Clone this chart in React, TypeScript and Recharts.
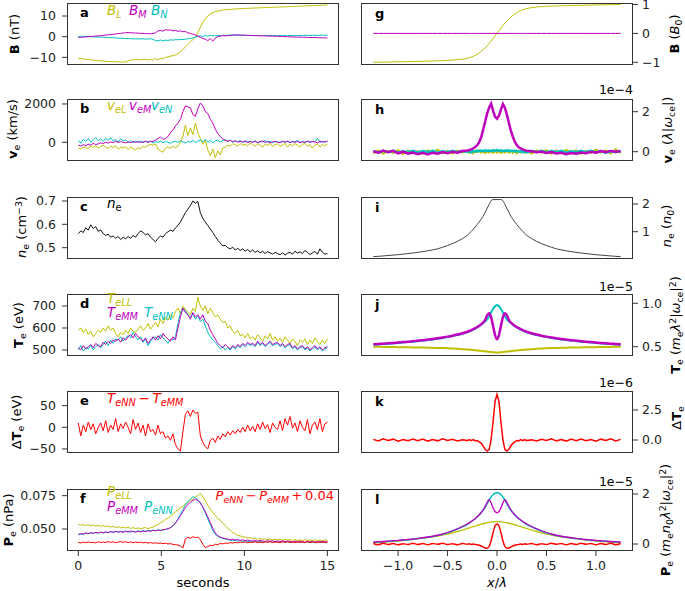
import React from "react";
import { LineChart, Line, XAxis, YAxis } from "recharts";

// ---- observations (left column), sampled every dt seconds from t = 0 to 15 ----
const dt = 0.15;

const bL = [
  -10.5, -10.6, -10.7, -10.9, -11.0, -11.2, -11.3, -11.5, -11.6, -11.7,
  -11.8, -11.9, -12.0, -12.0, -12.1, -12.1, -12.2, -12.2, -12.3, -12.2,
  -11.8, -11.3, -11.2, -11.1, -11.0, -11.2, -11.0, -10.9, -11.3, -11.0,
  -11.4, -10.6, -11.3, -10.4, -10.8, -10.0, -9.8, -9.4, -9.2, -8.8,
  -8.2, -7.2, -6.2, -5.0, -3.8, -2.6, -1.4, -0.2, 2.0, 4.5,
  7.0, 8.5, 10.0, 11.0, 11.6, 12.1, 12.4, 12.7, 12.9, 13.0,
  13.1, 13.2, 13.3, 13.4, 13.5, 13.5, 13.6, 13.7, 13.7, 13.8,
  13.8, 13.9, 13.9, 14.0, 14.0, 14.1, 14.1, 14.2, 14.2, 14.3,
  14.3, 14.4, 14.4, 14.5, 14.5, 14.6, 14.6, 14.7, 14.7, 14.8,
  14.8, 14.9, 14.9, 15.0, 15.0, 15.1, 15.1, 15.2, 15.2, 15.3,
  15.3,
];
const bM = [
  -0.4, -0.3, -0.2, -0.1, 0.0, 0.1, 0.2, 0.3, 0.4, 0.5,
  0.6, 0.8, 0.9, 1.0, 1.2, 1.3, 1.5, 1.6, 1.8, 1.9,
  2.0, 1.9, 1.8, 1.8, 1.7, 1.6, 1.6, 1.5, 1.5, 1.4,
  1.6, 1.9, 2.8, 3.0, 2.7, 3.4, 3.1, 3.3, 2.8, 3.0,
  2.6, 2.8, 2.4, 2.5, 1.9, 1.6, 1.2, 0.8, 0.3, -0.3,
  -0.8, -1.2, -1.9, -0.9, -2.2, -0.7, 0.1, 0.3, 0.5, 0.4,
  0.5, 0.6, 0.8, 0.7, 0.9, 0.8, 0.7, 0.7, 0.6, 0.6,
  0.5, 0.5, 0.5, 0.4, 0.4, 0.4, 0.3, 0.3, 0.3, 0.2,
  0.2, 0.1, 0.1, 0.0, 0.0, -0.1, -0.1, -0.2, -0.2, -0.2,
  -0.3, -0.3, -0.3, -0.4, -0.4, -0.4, -0.5, -0.5, -0.5, -0.6,
  -0.6,
];
const bN = [
  0.2, 0.2, 0.1, 0.1, 0.0, 0.0, -0.1, -0.1, -0.2, -0.2,
  -0.3, -0.3, -0.4, -0.5, -0.5, -0.6, -0.7, -0.8, -0.8, -0.9,
  -0.9, -1.0, -1.0, -1.1, -1.0, -1.1, -1.0, -1.2, -1.1, -1.0,
  -1.3, -1.9, -2.0, -1.6, -2.1, -1.7, -1.8, -1.5, -1.7, -1.4,
  -1.5, -1.3, -1.4, -1.2, -1.0, -0.9, -0.6, -0.2, 0.1, 0.4,
  0.2, 0.5, 0.3, 0.6, 0.5, 0.4, 0.6, 0.5, 0.7, 0.6,
  0.8, 0.7, 0.9, 0.8, 0.7, 0.8, 0.7, 0.7, 0.6, 0.6,
  0.6, 0.6, 0.6, 0.5, 0.6, 0.6, 0.5, 0.5, 0.6, 0.5,
  0.5, 0.5, 0.6, 0.5, 0.5, 0.6, 0.6, 0.5, 0.6, 0.6,
  0.6, 0.6, 0.7, 0.6, 0.6, 0.7, 0.6, 0.7, 0.7, 0.7,
  0.7,
];

const veL = [
  -300, -350, -250, -280, -320, -200, -260, -180, -300, -220,
  -150, -250, -320, -200, -280, -180, -350, -260, -300, -220,
  -380, -250, -320, -400, -280, -350, -200, -260, -150, -120,
  -150, -80, -350, -450, -520, -300, -250, -320, -200, -280,
  -200, 0, 300, 900, 350, 750, 400, 1000, 500, 200,
  -100, 100, -400, -700, -350, -800, -450, -650, -300, -250,
  -150, -200, -80, -120, -200, -60, -150, -100, -180, -50,
  -120, -200, -80, -150, -250, -100, -160, -60, -220, -120,
  -80, -200, -150, -50, -250, -100, -180, -70, -150, -230,
  -100, -60, -200, -120, -300, -150, -80, -250, -120, -180,
  -100,
];
const veM = [
  -150, -200, -120, -180, -100, -150, -50, -120, -80, -30,
  -60, 0, -40, 20, -20, 50, -10, 30, 0, -30,
  20, -20, 40, 0, 30, -10, 20, 60, 0, 40,
  50, 120, 200, 280, 150, 200, 300, 500, 650, 850,
  1000, 1200, 1600, 1900, 1850, 1800, 1450, 1350, 1750, 2050,
  1900, 1600, 1500, 1200, 1000, 700, 450, 300, 180, 100,
  60, 100, 30, 80, 0, 50, 20, 60, -20, 40,
  0, 50, -10, 30, 70, 0, 40, -30, 20, 50,
  0, -20, 40, 10, 60, -10, 30, 0, 50, -20,
  30, 0, 60, -10, 40, 20, -30, 50, 10, 30,
  60,
];
const veN = [
  100, -50, 150, 50, 200, 0, 120, 250, 80, 180,
  50, 200, 100, 250, 60, 150, 20, 180, 80, 120,
  0, 100, -30, 60, 20, 80, -20, 50, 10, 70,
  -40, 30, 0, 60, -20, 40, 0, -50, 20, 60,
  -10, 80, 20, -40, 50, 0, 100, -20, 60, 120,
  30, 150, 0, 100, -30, 80, 120, 20, 90, 150,
  40, 120, 0, 80, 30, 100, -20, 70, 20, 60,
  0, 80, -30, 50, 20, 90, 0, 60, -20, 40,
  30, -10, 70, 10, 50, -30, 60, 20, 100, 0,
  40, -20, 80, 10, 60, 30, 200, 0, 50, 20,
  60,
];

const ne = [
  0.560, 0.572, 0.565, 0.585, 0.575, 0.598, 0.582, 0.590, 0.570, 0.576,
  0.560, 0.552, 0.558, 0.545, 0.550, 0.540, 0.548, 0.535, 0.545, 0.538,
  0.548, 0.540, 0.552, 0.545, 0.560, 0.572, 0.565, 0.555, 0.560, 0.545,
  0.535, 0.525, 0.540, 0.550, 0.545, 0.560, 0.568, 0.575, 0.570, 0.585,
  0.595, 0.610, 0.630, 0.650, 0.665, 0.680, 0.700, 0.690, 0.698, 0.650,
  0.625, 0.610, 0.595, 0.580, 0.565, 0.548, 0.532, 0.520, 0.508, 0.510,
  0.500, 0.495, 0.502, 0.490, 0.497, 0.488, 0.495, 0.485, 0.492, 0.482,
  0.490, 0.480, 0.487, 0.478, 0.485, 0.475, 0.483, 0.478, 0.472, 0.480,
  0.475, 0.470, 0.478, 0.468, 0.476, 0.480, 0.472, 0.485, 0.477, 0.482,
  0.475, 0.488, 0.480, 0.470, 0.478, 0.484, 0.472, 0.495, 0.480, 0.472,
  0.475,
];

const teLL = [
  590, 600, 580, 595, 570, 585, 560, 575, 590, 580,
  600, 585, 610, 590, 600, 575, 560, 580, 570, 590,
  575, 600, 585, 580, 595, 610, 590, 600, 620, 595,
  610, 625, 605, 640, 620, 650, 635, 660, 645, 675,
  690, 665, 700, 685, 670, 660, 690, 675, 740, 700,
  680, 700, 665, 690, 670, 650, 660, 640, 625, 630,
  600, 610, 585, 575, 590, 565, 570, 555, 575, 550,
  560, 545, 570, 555, 540, 565, 550, 575, 545, 560,
  540, 555, 535, 560, 545, 530, 550, 540, 520, 545,
  535, 550, 525, 545, 530, 555, 540, 525, 545, 530,
  550,
];
const teMM = [
  510, 500, 520, 505, 515, 525, 510, 530, 520, 515,
  535, 525, 540, 530, 545, 540, 550, 535, 555, 545,
  560, 570, 555, 575, 560, 550, 540, 555, 530, 545,
  560, 545, 565, 550, 575, 560, 550, 540, 560, 545,
  600, 650, 690, 670, 660, 640, 670, 650, 660, 640,
  660, 630, 620, 590, 570, 550, 530, 520, 510, 525,
  515, 505, 520, 510, 525, 515, 530, 520, 535, 525,
  530, 520, 540, 525, 535, 520, 530, 540, 525, 530,
  535, 520, 530, 515, 525, 530, 510, 520, 505, 515,
  520, 505, 515, 500, 510, 520, 505, 515, 500, 510,
  515,
];
const teNN = [
  500, 520, 495, 510, 505, 520, 500, 515, 525, 510,
  525, 540, 520, 545, 530, 550, 545, 560, 540, 555,
  565, 555, 580, 560, 545, 560, 535, 550, 520, 540,
  555, 560, 545, 570, 555, 545, 530, 550, 545, 560,
  620, 670, 690, 680, 660, 650, 665, 640, 655, 630,
  640, 610, 580, 560, 545, 535, 520, 505, 515, 500,
  510, 500, 515, 505, 520, 510, 525, 515, 530, 520,
  525, 515, 535, 520, 530, 515, 525, 535, 520, 525,
  530, 515, 525, 510, 520, 525, 505, 515, 500, 510,
  515, 500, 510, 495, 505, 515, 500, 510, 495, 505,
  510,
];

const dTe = [
  10, -20, 5, -10, 12, -5, 8, -15, 0, 10,
  -8, 15, -12, 5, -5, 20, -10, 8, -3, 12,
  0, -15, 18, -5, 10, -12, 5, -20, 8, -10,
  -5, -18, 5, -15, -10, -25, -20, -30, -15, -40,
  -50, -55, -10, 30, 38, 25, 40, 32, 35, -20,
  -35, -45, -50, -30, -25, -35, -20, -28, -15, -22,
  -10, -18, -8, -15, -5, -12, 0, -10, 5, -8,
  2, -10, 8, -5, 12, -3, 6, -12, 10, 0,
  -5, 15, -8, 20, 5, 25, -2, 10, -10, 15,
  0, -8, 18, -15, 5, 12, -5, 20, -10, 8,
  12,
];

const peLL = [
  0.0535, 0.0528, 0.0534, 0.0526, 0.0532, 0.0524, 0.0530, 0.0521, 0.0528, 0.0519,
  0.0525, 0.0517, 0.0523, 0.0514, 0.0520, 0.0511, 0.0517, 0.0509, 0.0515, 0.0507,
  0.0513, 0.0504, 0.0511, 0.0502, 0.0509, 0.0500, 0.0507, 0.0511, 0.0503, 0.0510,
  0.0515, 0.0525, 0.0532, 0.0548, 0.0556, 0.0572, 0.0580, 0.0600, 0.0610, 0.0630,
  0.0640, 0.0660, 0.0670, 0.0690, 0.0700, 0.0718, 0.0722, 0.0742, 0.0750, 0.0768,
  0.0740, 0.0712, 0.0678, 0.0652, 0.0622, 0.0602, 0.0578, 0.0566, 0.0543, 0.0527,
  0.0505, 0.0492, 0.0474, 0.0465, 0.0451, 0.0449, 0.0440, 0.0440, 0.0433, 0.0434,
  0.0428, 0.0430, 0.0424, 0.0429, 0.0422, 0.0427, 0.0420, 0.0425, 0.0418, 0.0424,
  0.0419, 0.0423, 0.0416, 0.0422, 0.0417, 0.0421, 0.0415, 0.0420, 0.0414, 0.0419,
  0.0413, 0.0420, 0.0414, 0.0418, 0.0412, 0.0419, 0.0413, 0.0417, 0.0411, 0.0418,
  0.0415,
];
const peMM = [
  0.0460, 0.0465, 0.0462, 0.0470, 0.0466, 0.0472, 0.0468, 0.0475, 0.0470, 0.0476,
  0.0472, 0.0478, 0.0474, 0.0480, 0.0476, 0.0482, 0.0477, 0.0480, 0.0475, 0.0482,
  0.0478, 0.0485, 0.0480, 0.0476, 0.0483, 0.0478, 0.0485, 0.0480, 0.0487, 0.0483,
  0.0490, 0.0486, 0.0492, 0.0488, 0.0495, 0.0497, 0.0503, 0.0510, 0.0525, 0.0545,
  0.0570, 0.0600, 0.0630, 0.0660, 0.0685, 0.0700, 0.0715, 0.0722, 0.0715, 0.0695,
  0.0665, 0.0630, 0.0590, 0.0550, 0.0505, 0.0470, 0.0450, 0.0440, 0.0432, 0.0428,
  0.0425, 0.0420, 0.0423, 0.0417, 0.0421, 0.0415, 0.0419, 0.0413, 0.0417, 0.0411,
  0.0410, 0.0415, 0.0409, 0.0414, 0.0410, 0.0406, 0.0413, 0.0408, 0.0412, 0.0405,
  0.0411, 0.0406, 0.0412, 0.0404, 0.0410, 0.0407, 0.0402, 0.0409, 0.0404, 0.0410,
  0.0405, 0.0400, 0.0408, 0.0403, 0.0407, 0.0401, 0.0406, 0.0402, 0.0408, 0.0403,
  0.0406,
];
const peNN = [
  0.0455, 0.0462, 0.0458, 0.0468, 0.0463, 0.0470, 0.0466, 0.0473, 0.0468, 0.0477,
  0.0470, 0.0476, 0.0472, 0.0479, 0.0474, 0.0481, 0.0476, 0.0483, 0.0478, 0.0485,
  0.0480, 0.0476, 0.0484, 0.0479, 0.0486, 0.0481, 0.0488, 0.0483, 0.0490, 0.0485,
  0.0492, 0.0487, 0.0495, 0.0490, 0.0493, 0.0496, 0.0502, 0.0510, 0.0522, 0.0545,
  0.0575, 0.0610, 0.0645, 0.0680, 0.0705, 0.0725, 0.0742, 0.0735, 0.0720, 0.0700,
  0.0660, 0.0620, 0.0575, 0.0530, 0.0490, 0.0460, 0.0445, 0.0436, 0.0430, 0.0425,
  0.0420, 0.0416, 0.0412, 0.0415, 0.0409, 0.0413, 0.0407, 0.0411, 0.0405, 0.0410,
  0.0404, 0.0409, 0.0403, 0.0408, 0.0401, 0.0407, 0.0402, 0.0406, 0.0400, 0.0405,
  0.0402, 0.0398, 0.0406, 0.0400, 0.0404, 0.0397, 0.0403, 0.0399, 0.0405, 0.0398,
  0.0403, 0.0397, 0.0404, 0.0398, 0.0402, 0.0396, 0.0403, 0.0399, 0.0401, 0.0397,
  0.0400,
];
const peDiff = [
  0.0400, 0.0395, 0.0402, 0.0397, 0.0403, 0.0398, 0.0401, 0.0396, 0.0404, 0.0399,
  0.0402, 0.0398, 0.0405, 0.0400, 0.0403, 0.0397, 0.0402, 0.0406, 0.0400, 0.0404,
  0.0399, 0.0403, 0.0397, 0.0402, 0.0398, 0.0401, 0.0396, 0.0400, 0.0394, 0.0398,
  0.0393, 0.0397, 0.0392, 0.0395, 0.0390, 0.0393, 0.0388, 0.0390, 0.0385, 0.0382,
  0.0380, 0.0372, 0.0358, 0.0425, 0.0438, 0.0430, 0.0442, 0.0435, 0.0440, 0.0420,
  0.0385, 0.0360, 0.0368, 0.0378, 0.0375, 0.0386, 0.0382, 0.0392, 0.0388, 0.0395,
  0.0392, 0.0398, 0.0394, 0.0400, 0.0396, 0.0402, 0.0398, 0.0403, 0.0397, 0.0401,
  0.0399, 0.0404, 0.0398, 0.0402, 0.0397, 0.0403, 0.0400, 0.0405, 0.0398, 0.0402,
  0.0401, 0.0397, 0.0404, 0.0399, 0.0405, 0.0400, 0.0403, 0.0398, 0.0404, 0.0400,
  0.0402, 0.0398, 0.0405, 0.0399, 0.0403, 0.0400, 0.0397, 0.0404, 0.0401, 0.0398,
  0.0402,
];

// ---- simulation (right column), positions x/lambda ----
const xLam = [
  -1.25, -1.2, -1.15, -1.1, -1.05, -1.0, -0.95, -0.9, -0.85, -0.8,
  -0.75, -0.7, -0.65, -0.6, -0.55, -0.5, -0.45, -0.4, -0.35, -0.3,
  -0.28, -0.26, -0.24, -0.22, -0.2, -0.18, -0.16, -0.14, -0.12, -0.1,
  -0.08, -0.06, -0.04, -0.02, 0, 0.02, 0.04, 0.06, 0.08, 0.1,
  0.12, 0.14, 0.16, 0.18, 0.2, 0.22, 0.24, 0.26, 0.28,
  0.3, 0.35, 0.4, 0.45, 0.5, 0.55, 0.6, 0.65, 0.7, 0.75,
  0.8, 0.85, 0.9, 0.95, 1.0, 1.05, 1.1, 1.15, 1.2, 1.25,
];

const simBL = [
  -1.0, -0.997, -0.994, -0.99, -0.987, -0.983, -0.98, -0.976, -0.972, -0.968,
  -0.964, -0.96, -0.955, -0.95, -0.944, -0.936, -0.926, -0.912, -0.89, -0.86,
  -0.84, -0.82, -0.79, -0.76, -0.72, -0.67, -0.62, -0.56, -0.5, -0.43,
  -0.35, -0.27, -0.18, -0.09, 0, 0.09, 0.18, 0.27, 0.35, 0.43,
  0.5, 0.56, 0.62, 0.67, 0.72, 0.76, 0.79, 0.82, 0.84,
  0.86, 0.89, 0.912, 0.926, 0.936, 0.944, 0.95, 0.955, 0.96, 0.964,
  0.968, 0.972, 0.976, 0.98, 0.983, 0.987, 0.99, 0.994, 0.997, 1.0,
];
const simBM = [
  0, 0, 0, 0, 0, 0, 0, 0, 0, 0,
  0, 0, 0, 0, 0, 0, 0, 0, 0, 0,
  0, 0, 0, 0, 0, 0, 0, 0, 0, 0,
  0, 0, 0, 0, 0, 0, 0, 0, 0, 0,
  0, 0, 0, 0, 0, 0, 0, 0, 0,
  0, 0, 0, 0, 0, 0, 0, 0, 0, 0,
  0, 0, 0, 0, 0, 0, 0, 0, 0, 0,
];

// velocities in units of 1e-4
const simVL = [
  -0.08, 0.06, -0.1, 0.04, -0.06, 0.08, -0.12, 0.05, -0.07, 0.03,
  -0.09, 0.07, -0.05, 0.1, -0.08, 0.04, -0.1, 0.06, -0.04, 0.05,
  -0.06, 0.04, -0.08, 0.05, -0.03, 0.06, -0.05, 0.03, -0.07, 0.02,
  -0.04, 0.05, -0.06, 0.03, -0.05, 0.04, -0.07, 0.02, -0.04, 0.06,
  -0.05, 0.03, -0.06, 0.04, -0.08, 0.05, -0.03, 0.07, -0.05,
  0.04, -0.09, 0.06, -0.05, 0.08, -0.1, 0.05, -0.07, 0.09, -0.04,
  0.06, -0.11, 0.04, -0.06, 0.1, -0.05, 0.07, -0.09, 0.12, -0.06,
];
const simVN = [
  0.03, -0.04, 0.05, -0.02, 0.04, -0.05, 0.02, -0.03, 0.05, -0.04,
  0.03, -0.02, 0.04, -0.05, 0.02, -0.03, 0.04, -0.02, 0.03, 0.0,
  0.02, -0.03, 0.04, 0.0, 0.05, 0.02, 0.06, 0.03, 0.07, 0.04,
  0.06, 0.03, 0.07, 0.05, 0.08, 0.04, 0.07, 0.03, 0.06, 0.04,
  0.07, 0.03, 0.05, 0.02, 0.04, 0.0, 0.03, -0.02, 0.02,
  -0.03, 0.04, -0.02, 0.05, -0.04, 0.03, -0.02, 0.04, -0.05, 0.02,
  -0.03, 0.05, -0.02, 0.04, -0.04, 0.03, -0.05, 0.02, -0.03, 0.04,
];
const simVM = [
  0.02, -0.05, 0.06, -0.03, 0.04, -0.08, 0.0, -0.1, -0.04, -0.12,
  -0.06, -0.14, -0.05, -0.1, -0.02, -0.08, 0.0, -0.05, 0.03, 0.06,
  0.08, 0.12, 0.17, 0.24, 0.33, 0.48, 0.72, 1.1, 1.5, 1.9,
  2.2, 2.4, 2.05, 1.75, 1.65, 1.8, 2.1, 2.38, 2.2, 1.85,
  1.45, 1.05, 0.75, 0.5, 0.33, 0.22, 0.16, 0.12, 0.08,
  0.05, 0.02, -0.03, 0.01, -0.06, -0.02, -0.09, -0.05, -0.12, -0.07,
  -0.1, -0.04, -0.08, 0.0, -0.05, 0.03, -0.02, 0.04, 0.0, 0.02,
];

const simNe = [
  0.10, 0.11, 0.125, 0.14, 0.155, 0.17, 0.19, 0.21, 0.23, 0.255,
  0.28, 0.31, 0.345, 0.38, 0.44, 0.50, 0.57, 0.65, 0.75, 0.87,
  0.94, 1.01, 1.09, 1.17, 1.26, 1.35, 1.45, 1.56, 1.70, 1.84,
  1.98, 2.12, 2.16, 2.16, 2.16, 2.16, 2.16, 2.12, 1.98, 1.84,
  1.70, 1.56, 1.45, 1.35, 1.26, 1.17, 1.09, 1.01, 0.94,
  0.87, 0.75, 0.65, 0.57, 0.50, 0.44, 0.38, 0.345, 0.31, 0.28,
  0.255, 0.23, 0.21, 0.19, 0.17, 0.155, 0.14, 0.125, 0.11, 0.10,
];

// temperatures in units of 1e-5
const simTL = [
  0.500, 0.499, 0.498, 0.497, 0.496, 0.495, 0.494, 0.493, 0.492, 0.491,
  0.490, 0.489, 0.487, 0.486, 0.484, 0.482, 0.479, 0.476, 0.472, 0.468,
  0.466, 0.464, 0.461, 0.459, 0.457, 0.454, 0.452, 0.449, 0.447, 0.444,
  0.442, 0.439, 0.436, 0.433, 0.431, 0.433, 0.436, 0.439, 0.442, 0.444,
  0.447, 0.449, 0.452, 0.454, 0.457, 0.459, 0.461, 0.464, 0.466,
  0.468, 0.472, 0.476, 0.479, 0.482, 0.484, 0.486, 0.487, 0.489, 0.490,
  0.491, 0.492, 0.493, 0.494, 0.495, 0.496, 0.497, 0.498, 0.499, 0.500,
];
const simTN = [
  0.522, 0.526, 0.530, 0.534, 0.538, 0.543, 0.548, 0.553, 0.558, 0.564,
  0.570, 0.577, 0.584, 0.592, 0.601, 0.611, 0.622, 0.635, 0.650, 0.667,
  0.676, 0.686, 0.697, 0.709, 0.722, 0.737, 0.754, 0.772, 0.792, 0.815,
  0.850, 0.895, 0.935, 0.965, 0.980, 0.965, 0.935, 0.895, 0.850, 0.815,
  0.792, 0.772, 0.754, 0.737, 0.722, 0.709, 0.697, 0.686, 0.676,
  0.667, 0.650, 0.635, 0.622, 0.611, 0.601, 0.592, 0.584, 0.577, 0.570,
  0.564, 0.558, 0.553, 0.548, 0.543, 0.538, 0.534, 0.530, 0.526, 0.522,
];
const simTM = [
  0.527, 0.531, 0.535, 0.539, 0.543, 0.548, 0.553, 0.558, 0.563, 0.569,
  0.575, 0.582, 0.589, 0.597, 0.606, 0.616, 0.627, 0.640, 0.655, 0.672,
  0.681, 0.691, 0.702, 0.714, 0.727, 0.742, 0.759, 0.779, 0.810, 0.862,
  0.885, 0.840, 0.740, 0.635, 0.585, 0.635, 0.740, 0.840, 0.885, 0.862,
  0.810, 0.779, 0.759, 0.742, 0.727, 0.714, 0.702, 0.691, 0.681,
  0.672, 0.655, 0.640, 0.627, 0.616, 0.606, 0.597, 0.589, 0.582, 0.575,
  0.569, 0.563, 0.558, 0.553, 0.548, 0.543, 0.539, 0.535, 0.531, 0.527,
];

// temperature difference in units of 1e-6
const simDT = [
  0.05, -0.08, 0.1, -0.04, 0.07, -0.1, 0.03, -0.06, 0.09, -0.05,
  0.08, -0.09, 0.04, -0.07, 0.1, -0.03, 0.06, -0.08, 0.02, -0.05,
  0.04, -0.06, 0.03, -0.08, -0.05, -0.15, -0.28, -0.5, -0.78, -0.92,
  -0.8, 0.0, 1.5, 3.2, 3.8, 3.2, 1.5, 0.0, -0.8, -0.92,
  -0.78, -0.5, -0.28, -0.15, -0.05, -0.08, 0.03, -0.06, 0.04,
  -0.05, 0.02, -0.08, 0.06, -0.03, 0.1, -0.07, 0.04, -0.09, 0.08,
  -0.05, 0.09, -0.06, 0.03, -0.1, 0.07, -0.04, 0.1, -0.08, 0.05,
];

// pressures in units of 1e-5
const simPL = [
  0.05, 0.06, 0.075, 0.09, 0.105, 0.12, 0.14, 0.16, 0.185, 0.21,
  0.235, 0.26, 0.29, 0.32, 0.36, 0.40, 0.45, 0.50, 0.56, 0.62,
  0.645, 0.67, 0.695, 0.72, 0.745, 0.77, 0.79, 0.81, 0.83, 0.85,
  0.865, 0.878, 0.887, 0.893, 0.895, 0.893, 0.887, 0.878, 0.865, 0.85,
  0.83, 0.81, 0.79, 0.77, 0.745, 0.72, 0.695, 0.67, 0.645,
  0.62, 0.56, 0.50, 0.45, 0.40, 0.36, 0.32, 0.29, 0.26, 0.235,
  0.21, 0.185, 0.16, 0.14, 0.12, 0.105, 0.09, 0.075, 0.06, 0.05,
];
const simPN = [
  0.07, 0.08, 0.09, 0.105, 0.12, 0.135, 0.15, 0.17, 0.19, 0.215,
  0.24, 0.27, 0.30, 0.34, 0.39, 0.45, 0.52, 0.60, 0.69, 0.79,
  0.84, 0.89, 0.95, 1.01, 1.08, 1.16, 1.25, 1.35, 1.47, 1.61,
  1.75, 1.88, 1.97, 2.03, 2.05, 2.03, 1.97, 1.88, 1.75, 1.61,
  1.47, 1.35, 1.25, 1.16, 1.08, 1.01, 0.95, 0.89, 0.84,
  0.79, 0.69, 0.60, 0.52, 0.45, 0.39, 0.34, 0.30, 0.27, 0.24,
  0.215, 0.19, 0.17, 0.15, 0.135, 0.12, 0.105, 0.09, 0.08, 0.07,
];
const simPM = [
  0.08, 0.09, 0.10, 0.115, 0.13, 0.145, 0.16, 0.18, 0.20, 0.225,
  0.25, 0.28, 0.31, 0.35, 0.40, 0.46, 0.53, 0.61, 0.70, 0.80,
  0.85, 0.90, 0.96, 1.02, 1.09, 1.17, 1.26, 1.37, 1.50, 1.66,
  1.77, 1.65, 1.45, 1.30, 1.25, 1.30, 1.45, 1.65, 1.77, 1.66,
  1.50, 1.37, 1.26, 1.17, 1.09, 1.02, 0.96, 0.90, 0.85,
  0.80, 0.70, 0.61, 0.53, 0.46, 0.40, 0.35, 0.31, 0.28, 0.25,
  0.225, 0.20, 0.18, 0.16, 0.145, 0.13, 0.115, 0.10, 0.09, 0.08,
];
const simDP = [
  0.02, -0.03, 0.03, -0.02, 0.02, -0.03, 0.01, -0.02, 0.03, -0.02,
  0.02, -0.03, 0.02, -0.01, 0.03, -0.02, 0.01, -0.03, 0.02, -0.01,
  0.01, -0.02, 0.0, -0.02, -0.03, -0.05, -0.08, -0.12, -0.16, -0.17,
  -0.1, 0.12, 0.45, 0.72, 0.8, 0.72, 0.45, 0.12, -0.1, -0.17,
  -0.16, -0.12, -0.08, -0.05, -0.03, -0.02, 0.0, -0.02, 0.01,
  -0.01, 0.02, -0.03, 0.01, -0.02, 0.03, -0.01, 0.02, -0.03, 0.02,
  -0.02, 0.03, -0.01, 0.02, -0.03, 0.02, -0.02, 0.03, -0.03, 0.02,
];

const tSec = bL.map((_, i) => i * dt);

const YEL = "#bfbf00";
const MAG = "#bf00bf";
const CYA = "#00bfbf";
const RED = "#ff0000";
const FONT = "'DejaVu Sans', sans-serif";

// plot geometry
const LX = 67;
const RX = 361;
const PW = 272;
const PH = 62;
const PAD = 10; // room above the plot for the top tick label
const rowTop = [3, 99, 197, 294, 391, 489];

const minus = (v: number, d = 0) => (v < 0 ? "\u2212" : "") + Math.abs(v).toFixed(d);

type Series = { key: string; values: number[]; color: string; width?: number; smooth?: boolean };

function Panel(props: {
  x0: number;
  y0: number;
  side: "left" | "right";
  xs: number[];
  xDomain: [number, number];
  xTicks: number[];
  xFmt: (v: number) => string;
  showX: boolean;
  yDomain: [number, number];
  yTicks: number[];
  yFmt: (v: number) => string;
  series: Series[];
}) {
  const { x0, y0, side, xs, showX, series } = props;
  const axisW = 60;
  const axisH = showX ? 26 : 8;
  const data = xs.map((x, i) => {
    const row: Record<string, number> = { x };
    series.forEach((s) => (row[s.key] = s.values[i]));
    return row;
  });
  const chartLeft = side === "left" ? x0 - axisW : x0;
  return (
    <>
      <div style={{ position: "absolute", left: chartLeft, top: y0 - PAD }}>
        <LineChart width={PW + axisW} height={PH + axisH + PAD} data={data} margin={{ top: PAD, right: 0, bottom: 0, left: 0 }}>
          <XAxis
            dataKey="x"
            type="number"
            domain={props.xDomain}
            ticks={props.xTicks}
            interval={0}
            allowDataOverflow
            axisLine={false}
            stroke="#333"
            tickSize={5}
            tickMargin={5}
            height={axisH}
            tick={showX ? { fill: "#222", fontSize: 12.5 } : false}
            tickFormatter={props.xFmt}
          />
          <YAxis
            type="number"
            orientation={side}
            domain={props.yDomain}
            ticks={props.yTicks}
            interval={0}
            allowDataOverflow
            axisLine={false}
            stroke="#333"
            tickSize={5}
            tickMargin={side === "left" ? 6 : 4}
            width={axisW}
            tick={{ fill: "#222", fontSize: 12.5 }}
            tickFormatter={props.yFmt}
          />
          {series.map((s) => (
            <Line
              key={s.key}
              dataKey={s.key}
              type={s.smooth ? "monotone" : "linear"}
              stroke={s.color}
              strokeWidth={s.width ?? 1}
              dot={false}
              isAnimationActive={false}
            />
          ))}
        </LineChart>
      </div>
      <div
        style={{
          position: "absolute",
          left: x0,
          top: y0,
          width: PW,
          height: PH,
          border: "1px solid #333",
          boxSizing: "border-box",
          pointerEvents: "none",
        }}
      />
    </>
  );
}

const Sub = ({ children }: { children: React.ReactNode }) => (
  <span style={{ fontSize: "0.72em", position: "relative", top: "0.3em" }}>{children}</span>
);
const Sup = ({ children }: { children: React.ReactNode }) => (
  <span style={{ fontSize: "0.72em", position: "relative", top: "-0.45em" }}>{children}</span>
);
const Up = ({ children }: { children: React.ReactNode }) => (
  <span style={{ fontStyle: "normal" }}>{children}</span>
);

function Txt(p: { x: number; y: number; color?: string; size?: number; right?: boolean; center?: boolean; bold?: boolean; italic?: boolean; children: React.ReactNode }) {
  const tx = p.right ? "-100%" : p.center ? "-50%" : "0";
  return (
    <div
      style={{
        position: "absolute",
        left: p.x,
        top: p.y,
        transform: `translate(${tx}, -50%)`,
        color: p.color ?? "#000",
        fontSize: p.size ?? 13,
        fontWeight: p.bold ? "bold" : "normal",
        fontStyle: p.italic ? "italic" : "normal",
        whiteSpace: "nowrap",
        lineHeight: 1,
      }}
    >
      {p.children}
    </div>
  );
}

function YLab(p: { x: number; y: number; children: React.ReactNode }) {
  return (
    <div
      style={{
        position: "absolute",
        left: p.x,
        top: p.y,
        transform: "translate(-50%, -50%) rotate(-90deg)",
        fontSize: 13,
        whiteSpace: "nowrap",
        lineHeight: 1,
      }}
    >
      {p.children}
    </div>
  );
}

const leftX = { xs: tSec, xDomain: [-0.68, 15.7] as [number, number], xTicks: [0, 5, 10, 15], xFmt: (v: number) => String(v) };
const rightX = {
  xs: xLam,
  xDomain: [-1.375, 1.375] as [number, number],
  xTicks: [-1, -0.5, 0, 0.5, 1],
  xFmt: (v: number) => minus(v, 1),
};

const LG = 13.5; // legend font size

export default function App() {
  return (
    <div style={{ position: "absolute", left: 0, top: 0, width: 685, height: 591, background: "#fff", fontFamily: FONT, overflow: "hidden" }}>
      {/* left column: observations */}
      <Panel {...leftX} x0={LX} y0={rowTop[0]} side="left" showX={false} yDomain={[-13.7, 16.3]} yTicks={[-10, 0, 10]} yFmt={(v) => minus(v)}
        series={[
          { key: "bL", values: bL, color: YEL },
          { key: "bN", values: bN, color: CYA },
          { key: "bM", values: bM, color: MAG },
        ]} />
      <Panel {...leftX} x0={LX} y0={rowTop[1]} side="left" showX={false} yDomain={[-975, 2259]} yTicks={[0, 2000]} yFmt={(v) => minus(v)}
        series={[
          { key: "veL", values: veL, color: YEL },
          { key: "veN", values: veN, color: CYA },
          { key: "veM", values: veM, color: MAG },
        ]} />
      <Panel {...leftX} x0={LX} y0={rowTop[2]} side="left" showX={false} yDomain={[0.4515, 0.717]} yTicks={[0.5, 0.6, 0.7]} yFmt={(v) => v.toFixed(1)}
        series={[{ key: "ne", values: ne, color: "#111" }]} />
      <Panel {...leftX} x0={LX} y0={rowTop[3]} side="left" showX={false} yDomain={[472.7, 754.5]} yTicks={[500, 600, 700]} yFmt={(v) => String(v)}
        series={[
          { key: "teLL", values: teLL, color: YEL },
          { key: "teNN", values: teNN, color: CYA },
          { key: "teMM", values: teMM, color: MAG },
        ]} />
      <Panel {...leftX} x0={LX} y0={rowTop[4]} side="left" showX={false} yDomain={[-59.4, 83.8]} yTicks={[-50, 0, 50]} yFmt={(v) => minus(v)}
        series={[{ key: "dTe", values: dTe, color: RED }]} />
      <Panel {...leftX} x0={LX} y0={rowTop[5]} side="left" showX={true} yDomain={[0.0335, 0.08]} yTicks={[0.05, 0.075]} yFmt={(v) => v.toFixed(3)}
        series={[
          { key: "peLL", values: peLL, color: YEL },
          { key: "peNN", values: peNN, color: CYA },
          { key: "peMM", values: peMM, color: MAG },
          { key: "peDiff", values: peDiff, color: RED },
        ]} />

      {/* right column: simulation */}
      <Panel {...rightX} x0={RX} y0={rowTop[0]} side="right" showX={false} yDomain={[-1.094, 1.052]} yTicks={[-1, 0, 1]} yFmt={(v) => minus(v)}
        series={[
          { key: "sBL", values: simBL, color: YEL, smooth: true },
          { key: "sBM", values: simBM, color: MAG },
        ]} />
      <Panel {...rightX} x0={RX} y0={rowTop[1]} side="right" showX={false} yDomain={[-0.465, 2.635]} yTicks={[0, 2]} yFmt={(v) => String(v)}
        series={[
          { key: "sVL", values: simVL, color: YEL, width: 2 },
          { key: "sVN", values: simVN, color: CYA, width: 2.5 },
          { key: "sVM", values: simVM, color: MAG, width: 2.5 },
        ]} />
      <Panel {...rightX} x0={RX} y0={rowTop[2]} side="right" showX={false} yDomain={[0.014, 2.253]} yTicks={[1, 2]} yFmt={(v) => String(v)}
        series={[{ key: "sNe", values: simNe, color: "#444", smooth: true }]} />
      <Panel {...rightX} x0={RX} y0={rowTop[3]} side="right" showX={false} yDomain={[0.393, 1.107]} yTicks={[0.5, 1.0]} yFmt={(v) => v.toFixed(1)}
        series={[
          { key: "sTL", values: simTL, color: YEL, width: 2, smooth: true },
          { key: "sTN", values: simTN, color: CYA, width: 2, smooth: true },
          { key: "sTM", values: simTM, color: MAG, width: 2.5, smooth: true },
        ]} />
      <Panel {...rightX} x0={RX} y0={rowTop[4]} side="right" showX={false} yDomain={[-1.083, 4.083]} yTicks={[0, 2.5]} yFmt={(v) => v.toFixed(1)}
        series={[{ key: "sDT", values: simDT, color: RED, width: 1.5 }]} />
      <Panel {...rightX} x0={RX} y0={rowTop[5]} side="right" showX={true} yDomain={[-0.28, 2.2]} yTicks={[0, 2]} yFmt={(v) => String(v)}
        series={[
          { key: "sPL", values: simPL, color: YEL, width: 1.3, smooth: true },
          { key: "sPN", values: simPN, color: CYA, width: 1.5, smooth: true },
          { key: "sPM", values: simPM, color: MAG, width: 1.3, smooth: true },
          { key: "sDP", values: simDP, color: RED, width: 1.5, smooth: true },
        ]} />

      {/* panel letters */}
      {(["a", "b", "c", "d", "e", "f"] as const).map((l, i) => (
        <Txt key={l} x={80} y={rowTop[i] + 9} bold>{l}</Txt>
      ))}
      {(["g", "h", "i", "j", "k", "l"] as const).map((l, i) => (
        <Txt key={l} x={375} y={rowTop[i] + 10} bold>{l}</Txt>
      ))}

      {/* in-panel legends */}
      <Txt x={107} y={11} size={LG} color={YEL} italic>B<Sub>L</Sub></Txt>
      <Txt x={129} y={11} size={LG} color={MAG} italic>B<Sub>M</Sub></Txt>
      <Txt x={151} y={11} size={LG} color={CYA} italic>B<Sub>N</Sub></Txt>

      <Txt x={107} y={106} size={LG} color={YEL} italic>v<Sub>eL</Sub></Txt>
      <Txt x={129} y={106} size={LG} color={MAG} italic>v<Sub>eM</Sub></Txt>
      <Txt x={151} y={106} size={LG} color={CYA} italic>v<Sub>eN</Sub></Txt>

      <Txt x={107} y={204} size={LG}><i>n</i><Sub>e</Sub></Txt>

      <Txt x={107} y={299} size={LG} color={YEL} italic>T<Sub>eLL</Sub></Txt>
      <Txt x={107} y={313} size={LG} color={MAG} italic>T<Sub>eMM</Sub></Txt>
      <Txt x={144} y={313} size={LG} color={CYA} italic>T<Sub>eNN</Sub></Txt>

      <Txt x={107} y={399} size={LG} color={RED} italic>T<Sub>eNN</Sub><Up>{"\u2009\u2212\u2009"}</Up>T<Sub>eMM</Sub></Txt>

      <Txt x={107} y={492} size={LG} color={YEL} italic>P<Sub>eLL</Sub></Txt>
      <Txt x={107} y={507} size={LG} color={MAG} italic>P<Sub>eMM</Sub></Txt>
      <Txt x={144} y={507} size={LG} color={CYA} italic>P<Sub>eNN</Sub></Txt>
      <Txt x={334} y={495} size={13} color={RED} right italic>
        P<Sub>eNN</Sub><Up>{"\u2009\u2212\u2009"}</Up>P<Sub>eMM</Sub><Up>{"\u2009+\u20090.04"}</Up>
      </Txt>

      {/* offset factors */}
      <Txt x={633} y={90} right size={12.5}>1e−4</Txt>
      <Txt x={633} y={287} right size={12.5}>1e−5</Txt>
      <Txt x={633} y={383} right size={12.5}>1e−6</Txt>
      <Txt x={633} y={482} right size={12.5}>1e−5</Txt>

      {/* y labels, left */}
      <YLab x={14} y={34}><b>B</b> (nT)</YLab>
      <YLab x={12} y={129}><b>v</b><Sub>e</Sub> (km/s)</YLab>
      <YLab x={21} y={227}><i>n</i><Sub>e</Sub> (cm<Sup>−3</Sup>)</YLab>
      <YLab x={18} y={325}><b>T</b><Sub>e</Sub> (eV)</YLab>
      <YLab x={16} y={422}>Δ<b>T</b><Sub>e</Sub> (eV)</YLab>
      <YLab x={8} y={520}><b>P</b><Sub>e</Sub> (nPa)</YLab>

      {/* y labels, right */}
      <YLab x={674} y={34}><b>B</b> (<i>B</i><Sub>0</Sub>)</YLab>
      <YLab x={667} y={130}><b>v</b><Sub>e</Sub> (<i>λ</i>|<i>ω</i><Sub>ce</Sub>|)</YLab>
      <YLab x={666} y={226}><i>n</i><Sub>e</Sub> (<i>n</i><Sub>0</Sub>)</YLab>
      <YLab x={675} y={325}><b>T</b><Sub>e</Sub> (<i>m</i><Sub>e</Sub><i>λ</i><Sup>2</Sup>|<i>ω</i><Sub>ce</Sub>|<Sup>2</Sup>)</YLab>
      <YLab x={676} y={418}>Δ<b>T</b><Sub>e</Sub></YLab>
      <YLab x={665} y={520}><b>P</b><Sub>e</Sub> (<i>m</i><Sub>e</Sub><i>n</i><Sub>0</Sub><i>λ</i><Sup>2</Sup>|<i>ω</i><Sub>ce</Sub>|<Sup>2</Sup>)</YLab>

      {/* x labels */}
      <Txt x={203} y={582} center>seconds</Txt>
      <Txt x={497} y={582} center><i>x</i>/<i>λ</i></Txt>
    </div>
  );
}
